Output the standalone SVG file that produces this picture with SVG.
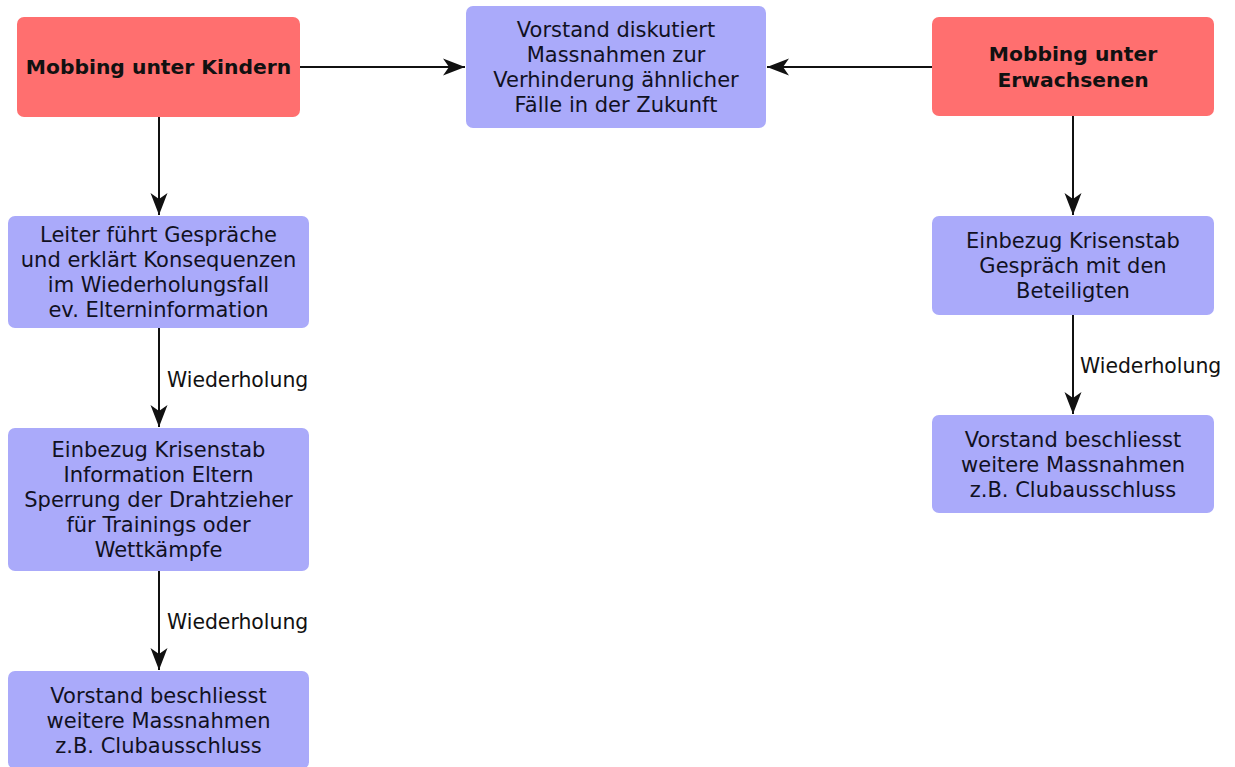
<svg xmlns="http://www.w3.org/2000/svg" width="1235" height="767" viewBox="0 0 1235 767">
<style>
.red{fill:#FF6F6F;}
.blue{fill:#AAAAFA;}
.t{font-family:"DejaVu Sans","Liberation Sans",sans-serif;font-size:21px;fill:#111122;text-anchor:middle;dominant-baseline:central;}
.b{font-family:"DejaVu Sans","Liberation Sans",sans-serif;font-size:20.3px;font-weight:bold;fill:#111111;text-anchor:middle;dominant-baseline:central;}
.lbl{font-family:"DejaVu Sans","Liberation Sans",sans-serif;font-size:20.4px;fill:#111111;dominant-baseline:central;}
.c{stroke:#111111;stroke-width:2;fill:none;marker-end:url(#ah);}
</style>
<defs>
<marker id="ah" markerUnits="userSpaceOnUse" markerWidth="22" markerHeight="18" refX="22" refY="9" orient="auto" viewBox="0 0 22 18">
<path d="M0,0.5 L22,9 L0,17.5 L6,9 Z" fill="#111111"/>
</marker>
</defs>
<rect width="1235" height="767" fill="#ffffff"/>
<g id="connectors">
<line class="c" x1="300" y1="67" x2="465" y2="67"/>
<line class="c" x1="932" y1="67" x2="767" y2="67"/>
<line class="c" x1="159" y1="117" x2="159" y2="215"/>
<line class="c" x1="159" y1="328" x2="159" y2="427"/>
<line class="c" x1="159" y1="571" x2="159" y2="670"/>
<line class="c" x1="1073" y1="116" x2="1073" y2="215"/>
<line class="c" x1="1073" y1="315" x2="1073" y2="414"/>
<text class="lbl" x="167" y="380">Wiederholung</text>
<text class="lbl" x="167" y="622">Wiederholung</text>
<text class="lbl" x="1080" y="366">Wiederholung</text>
</g>
<g id="n-kinder">
<rect class="red" x="17" y="17" width="283" height="100" rx="7"/>
<text class="b" x="158.5" y="67">Mobbing unter Kindern</text>
</g>
<g id="n-vorstand-diskutiert">
<rect class="blue" x="466" y="6" width="300" height="122" rx="7"/>
<text class="t" x="616" y="29.5">Vorstand diskutiert</text>
<text class="t" x="616" y="54.5">Massnahmen zur</text>
<text class="t" x="616" y="79.5">Verhinderung ähnlicher</text>
<text class="t" x="616" y="104.5">Fälle in der Zukunft</text>
</g>
<g id="n-erwachsene">
<rect class="red" x="932" y="17" width="282" height="99" rx="7"/>
<text class="b" x="1073" y="54">Mobbing unter</text>
<text class="b" x="1073" y="80">Erwachsenen</text>
</g>
<g id="n-leiter">
<rect class="blue" x="8" y="216" width="301" height="112" rx="7"/>
<text class="t" x="158.5" y="234.5">Leiter führt Gespräche</text>
<text class="t" x="158.5" y="259.5">und erklärt Konsequenzen</text>
<text class="t" x="158.5" y="284.5">im Wiederholungsfall</text>
<text class="t" x="158.5" y="309.5">ev. Elterninformation</text>
</g>
<g id="n-krisenstab-kinder">
<rect class="blue" x="8" y="428" width="301" height="143" rx="7"/>
<text class="t" x="158.5" y="449.5">Einbezug Krisenstab</text>
<text class="t" x="158.5" y="474.5">Information Eltern</text>
<text class="t" x="158.5" y="499.5">Sperrung der Drahtzieher</text>
<text class="t" x="158.5" y="524.5">für Trainings oder</text>
<text class="t" x="158.5" y="549.5">Wettkämpfe</text>
</g>
<g id="n-vorstand-kinder">
<rect class="blue" x="8" y="671" width="301" height="98" rx="7"/>
<text class="t" x="158.5" y="696">Vorstand beschliesst</text>
<text class="t" x="158.5" y="721">weitere Massnahmen</text>
<text class="t" x="158.5" y="746">z.B. Clubausschluss</text>
</g>
<g id="n-krisenstab-erwachsene">
<rect class="blue" x="932" y="216" width="282" height="99" rx="7"/>
<text class="t" x="1073" y="240.5">Einbezug Krisenstab</text>
<text class="t" x="1073" y="265.5">Gespräch mit den</text>
<text class="t" x="1073" y="290.5">Beteiligten</text>
</g>
<g id="n-vorstand-erwachsene">
<rect class="blue" x="932" y="415" width="282" height="98" rx="7"/>
<text class="t" x="1073" y="440">Vorstand beschliesst</text>
<text class="t" x="1073" y="465">weitere Massnahmen</text>
<text class="t" x="1073" y="490">z.B. Clubausschluss</text>
</g>
</svg>
